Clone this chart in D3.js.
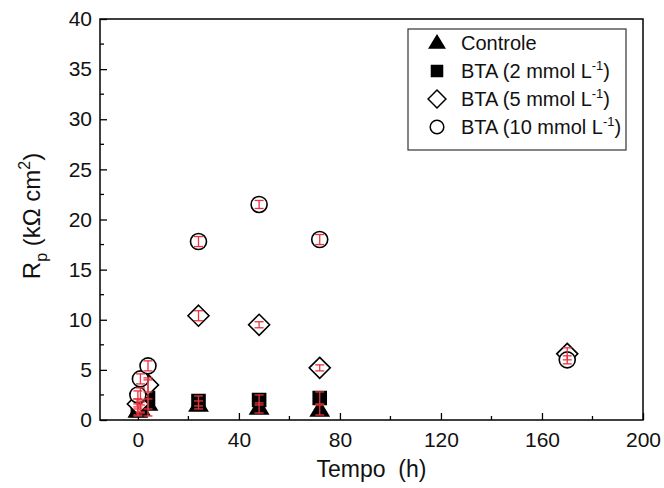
<!DOCTYPE html>
<html>
<head>
<meta charset="utf-8">
<script src="https://cdn.jsdelivr.net/npm/d3@7"></script>
<style>
  body { margin: 0; background: #fff; }
  svg { font-family: "Liberation Sans", Arial, sans-serif; }
</style>
</head>
<body>
<svg width="664" height="488"></svg>
<script>
// sampling times (h)
const times = [0, 1, 4, 24, 48, 72, 170];

// Rp values (kOhm cm2) and error bars, null = not measured
const controle    = [0.9, 1.1, 1.6, 1.5, 1.2, 1.0, null];
const controleErr = [0.4, 0.4, 0.5, 0.4, 0.5, 0.5, null];
const bta2        = [1.0, 1.3, 2.2, 1.9, 2.0, 2.2, null];
const bta2Err     = [0.6, 0.5, 1.8, 0.5, 0.5, 0.6, null];
const bta5        = [1.6, 2.6, 3.5, 10.4, 9.5, 5.2, 6.6];
const bta5Err     = [0.5, 0.6, 0.7, 0.5, 0.3, 0.3, 0.6];
const bta10       = [2.5, 4.1, 5.4, 17.8, 21.5, 18.0, 6.0];
const bta10Err    = [0.4, 0.5, 0.5, 0.5, 0.4, 0.5, 0.4];

const xMajor = [0, 40, 80, 120, 160, 200];
const xMinor = [20, 60, 100, 140, 180];
const yMajor = [0, 5, 10, 15, 20, 25, 30, 35, 40];
const yMinor = [2.5, 7.5, 12.5, 17.5, 22.5, 27.5, 32.5, 37.5];

const seriesNames = ["Controle", "BTA (2 mmol L", "BTA (5 mmol L", "BTA (10 mmol L"];
const seriesVals = [controle, bta2, bta5, bta10];
const seriesErrs = [controleErr, bta2Err, bta5Err, bta10Err];
const seriesShape = ["triangle", "square", "diamond", "circle"];

const svg = d3.select("svg"),
      margin = { top: 19, right: 21, bottom: 68, left: 100 },
      width = +svg.attr("width") - margin.left - margin.right,
      height = +svg.attr("height") - margin.top - margin.bottom;

const g = svg.append("g").attr("transform", `translate(${margin.left},${margin.top})`);

const x = d3.scaleLinear().domain([-15, 200]).range([0, width]);
const y = d3.scaleLinear().domain([0, 40]).range([height, 0]);

// marker paths
function shapePath(shape, s) {
  if (shape === "triangle") {
    const w = 9 * s, h = 15 * s;
    return `M0,${-h * 0.6}L${w},${h * 0.4}L${-w},${h * 0.4}Z`;
  }
  if (shape === "square") {
    const a = 6.5 * s;
    return `M${-a},${-a}H${a}V${a}H${-a}Z`;
  }
  if (shape === "diamond") {
    const a = 10.5 * s;
    return `M0,${-a}L${a},0L0,${a}L${-a},0Z`;
  }
  const r = 8 * s;
  return `M${r},0A${r},${r} 0 1,1 ${-r},0A${r},${r} 0 1,1 ${r},0Z`;
}
const filled = { triangle: true, square: true, diamond: false, circle: false };

// axes (ticks pointing inward)
const axisX = g.append("g").attr("transform", `translate(0,${height})`)
  .call(d3.axisBottom(x).tickValues(xMajor).tickSizeInner(-7).tickSizeOuter(0).tickPadding(12));
axisX.append("g").selectAll("line").data(xMinor).join("line")
  .attr("x1", d => x(d)).attr("x2", d => x(d)).attr("y1", 0).attr("y2", -4)
  .attr("stroke", "#000");

const axisY = g.append("g")
  .call(d3.axisLeft(y).tickValues(yMajor).tickSizeInner(-7).tickSizeOuter(0).tickPadding(8));
axisY.append("g").selectAll("line").data(yMinor).join("line")
  .attr("y1", d => y(d)).attr("y2", d => y(d)).attr("x1", 0).attr("x2", 4)
  .attr("stroke", "#000");

[axisX, axisY].forEach(a => {
  a.select(".domain").remove();
  a.selectAll("line").attr("stroke", "#000").attr("stroke-width", 1.3);
  a.selectAll("text").attr("fill", "#111").style("font-size", "21px")
    .style("font-family", "'Liberation Sans', Arial, sans-serif");
});

// frame
g.append("rect").attr("width", width).attr("height", height)
  .attr("fill", "none").attr("stroke", "#000").attr("stroke-width", 1.5);

// markers
seriesVals.forEach((vals, i) => {
  const pts = times.map((t, j) => ({ t, v: vals[j] })).filter(d => d.v != null);
  g.append("g").selectAll("path").data(pts).join("path")
    .attr("transform", d => `translate(${x(d.t)},${y(d.v)})`)
    .attr("d", shapePath(seriesShape[i], 1))
    .attr("fill", filled[seriesShape[i]] ? "#000" : "#fff")
    .attr("stroke", "#000").attr("stroke-width", 1.6)
    .attr("stroke-linejoin", "miter");
});

// error bars on top
seriesVals.forEach((vals, i) => {
  const pts = times.map((t, j) => ({ t, v: vals[j], e: seriesErrs[i][j] })).filter(d => d.v != null);
  const eb = g.append("g").attr("stroke", "#e8343f").attr("stroke-width", 1.3);
  eb.selectAll(".bar").data(pts).join("line")
    .attr("x1", d => x(d.t)).attr("x2", d => x(d.t))
    .attr("y1", d => y(d.v - d.e)).attr("y2", d => y(d.v + d.e));
  eb.selectAll(".capT").data(pts).join("line")
    .attr("x1", d => x(d.t) - 4.5).attr("x2", d => x(d.t) + 4.5)
    .attr("y1", d => y(d.v + d.e)).attr("y2", d => y(d.v + d.e));
  eb.selectAll(".capB").data(pts).join("line")
    .attr("x1", d => x(d.t) - 4.5).attr("x2", d => x(d.t) + 4.5)
    .attr("y1", d => y(d.v - d.e)).attr("y2", d => y(d.v - d.e));
});

// legend
const leg = svg.append("g").attr("transform", "translate(408,29)");
leg.append("rect").attr("width", 218).attr("height", 121)
  .attr("fill", "#fff").attr("stroke", "#333").attr("stroke-width", 1.2);
seriesNames.forEach((name, i) => {
  const row = leg.append("g").attr("transform", `translate(29,${14 + i * 28})`);
  row.append("path").attr("d", shapePath(seriesShape[i], 0.85))
    .attr("fill", filled[seriesShape[i]] ? "#000" : "#fff")
    .attr("stroke", "#000").attr("stroke-width", 1.5);
  const t = row.append("text").attr("x", 24).attr("y", 7)
    .style("font-size", "20px").attr("fill", "#111").text(name);
  if (i > 0) {
    t.append("tspan").attr("dy", -8).style("font-size", "13px").text("-1");
    t.append("tspan").attr("dy", 8).text(")");
  }
});

// axis titles
svg.append("text")
  .attr("x", margin.left + width / 2).attr("y", 477)
  .attr("text-anchor", "middle").style("font-size", "23px").attr("fill", "#111")
  .text("Tempo\u00a0\u00a0(h)");

const yl = svg.append("text")
  .attr("transform", "translate(40,216) rotate(-90)")
  .attr("text-anchor", "middle").style("font-size", "24px").attr("fill", "#111");
yl.append("tspan").text("R");
yl.append("tspan").attr("dy", 7).style("font-size", "16px").text("p");
yl.append("tspan").attr("dy", -7).text(" (k\u03a9 cm");
yl.append("tspan").attr("dy", -10).style("font-size", "16px").text("2");
yl.append("tspan").attr("dy", 10).text(")");
</script>
</body>
</html>
